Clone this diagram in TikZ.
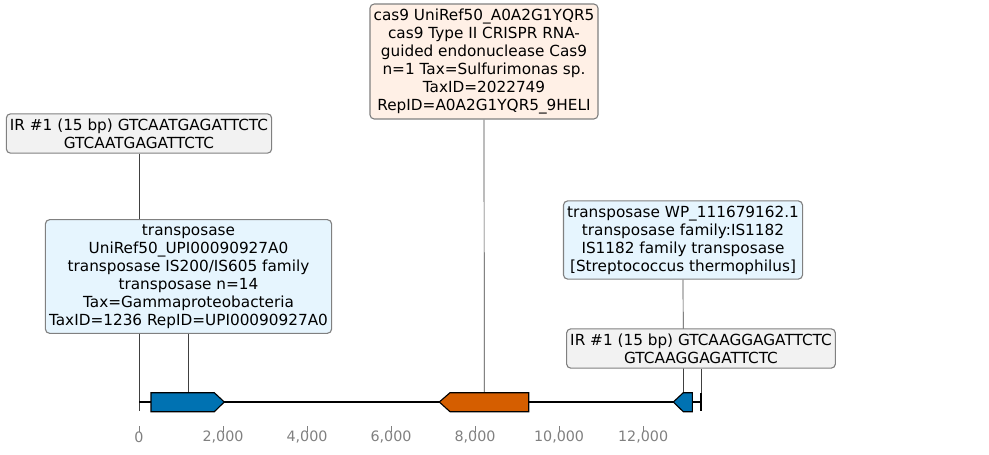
\documentclass[tikz,border=0pt]{standalone}
\usepackage{fontspec}
\setmainfont{DejaVu Sans}
\usetikzlibrary{positioning,backgrounds}
\definecolor{geneblue}{HTML}{0072B2}
\definecolor{geneorange}{HTML}{D55E00}
\definecolor{irfill}{HTML}{F2F2F2}
\definecolor{tnpfill}{HTML}{E6F5FE}
\definecolor{casfill}{HTML}{FFF0E6}
\definecolor{boxline}{HTML}{808080}
\definecolor{axisgray}{HTML}{808080}

\tikzset{
  labelbox/.style={draw=boxline, line width=0.8pt, rounded corners=3pt, align=center,
    inner xsep=2.6pt, inner ysep=3.4pt, font=\fontsize{11}{13}\selectfont},
  pointer/.style={line width=0.5pt, draw=black!75},
  gene/.style={draw=black, line width=0.8pt},
}

\begin{document}
\begin{tikzpicture}[x=0.72pt, y=-0.72pt, line join=miter]
  \useasboundingbox (0,0) rectangle (989,454);

  % label boxes
  \node[labelbox, fill=irfill] (irleft) at (139,133.5) {IR \#1 (15 bp) GTCAATGAGATTCTC\\GTCAATGAGATTCTC};
  \node[labelbox, fill=tnpfill] (tnpleft) at (188.5,276.5) {transposase\\UniRef50\_UPI00090927A0\\transposase IS200/IS605 family\\transposase n=14\\Tax=Gammaproteobacteria\\TaxID=1236 RepID=UPI00090927A0};
  \node[labelbox, fill=casfill] (cas) at (484,61.5) {cas9 UniRef50\_A0A2G1YQR5\\cas9 Type II CRISPR RNA-\\guided endonuclease Cas9\\n=1 Tax=Sulfurimonas sp.\\TaxID=2022749\\RepID=A0A2G1YQR5\_9HELI};
  \node[labelbox, fill=tnpfill] (tnpright) at (683,240) {transposase WP\_111679162.1\\transposase family:IS1182\\IS1182 family transposase\\{[Streptococcus thermophilus]}};
  \node[labelbox, fill=irfill] (irright) at (701,348.5) {IR \#1 (15 bp) GTCAAGGAGATTCTC\\GTCAAGGAGATTCTC};

  % feature anchors
  \coordinate (irl) at (139,411);
  \coordinate (g1) at (188.3,392.7);
  \coordinate (g2) at (484.3,392.7);
  \coordinate (g3) at (683.5,392.7);
  \coordinate (irr) at (701,393);

  \begin{pgfonlayer}{background}
    \draw[pointer] (irleft.south) -- (irl);
    \draw[pointer] (tnpleft.south -| g1) -- (g1);
    \draw[pointer] (cas.south) -- (g2);
    \draw[pointer] (tnpright.south) -- (g3);
    \draw[pointer] (irright.south) -- (irr);
  \end{pgfonlayer}

  % sequence line
  \draw[line width=1.4pt] (139,402) -- (701,402);
  \draw[gene, fill=geneblue] (151,392.7) -- (214.3,392.7) -- (224.3,402) -- (214.3,411.7) -- (151,411.7) -- cycle;
  \draw[gene, fill=geneorange] (528.7,392.7) -- (450,392.7) -- (439.3,402) -- (450,411.7) -- (528.7,411.7) -- cycle;
  \draw[gene, fill=geneblue] (692.3,392.7) -- (683.3,392.7) -- (673.3,402) -- (683.3,411.7) -- (692.3,411.7) -- cycle;
  \draw[line width=1.4pt] (701,393) -- (701,411);

  % axis
  \foreach \v/\t in {0/0, 2000/{2,000}, 4000/{4,000}, 6000/{6,000}, 8000/{8,000}, 10000/{10,000}, 12000/{12,000}} {
    \draw[axisgray, line width=0.6pt] ({139+0.042*\v},426) -- ({139+0.042*\v},432);
    \node[text=axisgray, font=\fontsize{10.3}{12}\selectfont, inner sep=0pt] at ({139+0.042*\v},437.5) {\t};
  }
\end{tikzpicture}
\end{document}
